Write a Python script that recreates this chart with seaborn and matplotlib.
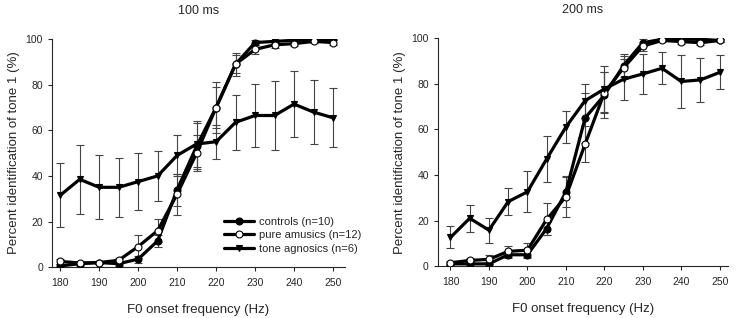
import numpy as np
import pandas as pd
import seaborn as sns
import matplotlib
matplotlib.use("Agg")
import matplotlib.pyplot as plt

freq = [180, 185, 190, 195, 200, 205, 210, 215, 220, 225, 230, 235, 240, 245, 250]

# 100 ms
ctrl_100 = [0.5, 1.5, 2, 1.5, 3.5, 11.5, 34, 53, 70, 89, 98.5, 99, 99.5, 99.5, 100]
ctrl_100_err = [1, 0.8, 0.8, 1, 1.5, 2.5, 7, 10, 11, 5, 1, 0.8, 0.6, 0.5, 0.4]
amus_100 = [2.5, 1.8, 2, 3, 9, 16, 32, 50, 70, 89, 95.5, 97.5, 98, 99, 98.5]
amus_100_err = [1, 0.8, 0.8, 1.2, 5, 5, 9, 8, 9, 4, 2, 1.2, 1.2, 0.8, 1]
agno_100 = [31.5, 38.5, 35, 35, 37.5, 40, 49, 54, 55, 63.5, 66.5, 66.5, 71.5, 68, 65.5]
agno_100_err = [14, 15, 14, 13, 12.5, 11, 9, 10, 7.5, 12, 14, 15, 14.5, 14, 13]

# 200 ms
ctrl_200 = [1, 1, 1, 5, 5, 16.5, 32.5, 65, 75, 88, 98, 99.5, 99.5, 99.5, 99]
ctrl_200_err = [0.8, 1, 1, 1.5, 1.5, 3, 6.5, 11, 10, 5, 1.5, 0.5, 0.5, 0.5, 0.6]
amus_200 = [1.5, 2.5, 3, 6.5, 7, 20.5, 30.5, 53.5, 76, 87, 96.5, 99, 98.5, 98, 99]
amus_200_err = [0.8, 1.2, 2, 2.5, 3, 7, 9, 8, 9, 5, 2, 0.8, 1, 1, 0.6]
agno_200 = [12.6, 21, 15.8, 28.3, 32.6, 47, 61, 72.6, 77.7, 82, 84.3, 86.8, 81, 81.7, 85]
agno_200_err = [4.8, 6, 5.5, 6, 9, 10, 7, 7.5, 10, 9, 8.7, 7, 11.7, 9.5, 7.5]

groups = ["controls (n=10)", "pure amusics (n=12)", "tone agnosics (n=6)"]
panels = {
    "100 ms": [(ctrl_100, ctrl_100_err), (amus_100, amus_100_err), (agno_100, agno_100_err)],
    "200 ms": [(ctrl_200, ctrl_200_err), (amus_200, amus_200_err), (agno_200, agno_200_err)],
}
marker_style = {
    groups[0]: dict(marker="o", markerfacecolor="black", markeredgecolor="black"),
    groups[1]: dict(marker="o", markerfacecolor="white", markeredgecolor="black"),
    groups[2]: dict(marker="v", markerfacecolor="black", markeredgecolor="black"),
}

sns.set_style("ticks")
plt.rcParams["font.family"] = ["Liberation Sans", "DejaVu Sans"]

fig = plt.figure(figsize=(7.37, 3.18), dpi=100)
axes = [fig.add_axes([0.0706, 0.160, 0.3976, 0.717]),
        fig.add_axes([0.594, 0.163, 0.3935, 0.717])]
xlims = [(177.9, 253.1), (176.7, 252.1)]

for ax, (title, series), xl in zip(axes, panels.items(), xlims):
    for g, (vals, errs) in zip(groups, series):
        ax.errorbar(freq, vals, yerr=errs, fmt="none", ecolor="#444444",
                    elinewidth=0.8, capsize=3, capthick=0.8, zorder=1)
    for g, (vals, errs) in zip(groups, series):
        df = pd.DataFrame({"freq": freq, "pct": vals})
        sns.lineplot(data=df, x="freq", y="pct", ax=ax, color="black", lw=2.3,
                     markersize=5, markeredgewidth=0.8, label=g, zorder=3,
                     **marker_style[g])
    ax.set_xlim(*xl)
    ax.set_ylim(0, 100)
    ax.set_xticks(range(180, 251, 10))
    ax.set_yticks(range(0, 101, 20))
    ax.tick_params(labelsize=7.5, length=3, width=0.8)
    ax.tick_params(axis="x", pad=5)
    ax.set_xlabel("F0 onset frequency (Hz)", fontsize=9.5, labelpad=11)
    ax.set_ylabel("Percent identification of tone 1 (%)", fontsize=9.5, labelpad=4)
    ax.set_title(title, fontsize=9, pad=18)
    sns.despine(ax=ax)
    for s in ax.spines.values():
        s.set_linewidth(0.8)

axes[0].legend(loc="lower right", bbox_to_anchor=(1.07, 0.04), frameon=False,
               fontsize=8, handlelength=2.7, handletextpad=0.4,
               labelspacing=0.3, borderaxespad=0)
axes[1].get_legend().remove()

fig.savefig("out.png", dpi=100)
